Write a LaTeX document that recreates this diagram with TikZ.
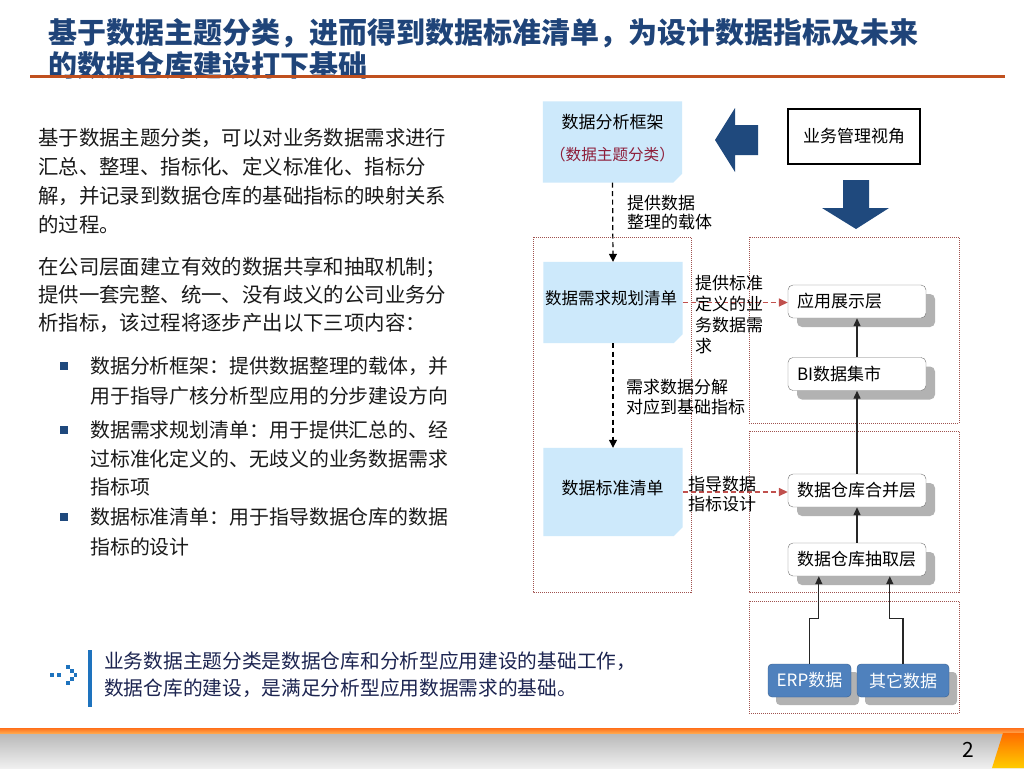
\documentclass[tikz,border=0pt]{standalone}
\usepackage{fontspec}
\setmainfont{Noto Sans CJK SC}
\usetikzlibrary{arrows.meta,shadows,calc,backgrounds}
\definecolor{titleblue}{HTML}{1F4479}
\definecolor{rulered}{HTML}{C0501E}
\definecolor{lblue}{HTML}{CDE9FB}
\definecolor{framered}{HTML}{A0524F}
\definecolor{arrred}{HTML}{C0504D}
\definecolor{navy}{HTML}{1F497D}
\definecolor{erpblue}{HTML}{4F81BD}
\definecolor{notetext}{HTML}{1C2450}
\definecolor{iconblue}{HTML}{1E73BE}
\definecolor{darkred}{HTML}{8E1E3A}
\definecolor{bodytext}{HTML}{1A1A1A}
\newcommand\chamferfill[1]{\fill[lblue] (#1.north west) -- (#1.north east) -- ([yshift=9pt]#1.south east) -- ([xshift=-9pt]#1.south east) -- (#1.south west) -- cycle;}
\begin{document}
\begin{tikzpicture}[x=1pt,y=-1pt,
  body/.style={anchor=north west, inner sep=0, align=left, text=bodytext},
  lab/.style={anchor=north west, inner sep=0, align=left, text=black, font=\fontsize{17}{19.5}\selectfont},
  bulletsq/.style={fill=navy, minimum size=8pt, inner sep=0},
  lbox/.style={minimum width=139pt, minimum height=81pt, inner sep=0, font=\fontsize{16.5}{20}\selectfont},
  frame/.style={draw=framered, line width=0.8pt, dash pattern=on 1pt off 1pt},
  layerbox/.style={draw=black!55, fill=white, rounded corners=5pt, minimum width=138pt, minimum height=33pt, text width=120pt, inner xsep=9pt, inner ysep=0, align=left, font=\fontsize{17}{20}\selectfont, drop shadow={shadow xshift=9pt, shadow yshift=-9pt, fill=black!30, opacity=1}},
  srcbox/.style={draw=erpblue!75!black, fill=erpblue, rounded corners=4pt, minimum height=33pt, inner sep=0, text=white, font=\fontsize{17}{20}\selectfont, drop shadow={shadow xshift=8pt, shadow yshift=-8pt, fill=black!30, opacity=1}},
  arr/.style={draw=black!85, line width=1.3pt, -{Triangle[length=8pt,width=7pt]}},
  dasharr/.style={draw=black, line width=1.2pt, dash pattern=on 5pt off 3.5pt, -{Triangle[length=8pt,width=8pt]}},
  redarr/.style={draw=arrred, line width=1.5pt, dash pattern=on 5pt off 3pt, -{Triangle[length=9pt,width=8pt]}}
]
\useasboundingbox (0,0) rectangle (1024,768);
\begin{pgfonlayer}{background}
\fill[white] (0,0) rectangle (1024,768);
\end{pgfonlayer}

% title
\node[anchor=north west, inner sep=0, align=left, text=titleblue, font=\bfseries\fontsize{29}{33.5}\selectfont] (title) at (48,18) {基于数据主题分类，进而得到数据标准清单，为设计数据指标及未来\\的数据仓库建设打下基础};
\fill[rulered] (30,74.5) rectangle (1005,78);

% left text
\node[body, font=\fontsize{20.4}{29}\selectfont] (p1) at (38,128.6) {基于数据主题分类，可以对业务数据需求进行\\汇总、整理、指标化、定义标准化、指标分\\解，并记录到数据仓库的基础指标的映射关系\\的过程。};
\node[body, font=\fontsize{20.4}{28}\selectfont] (p2) at (38,257.5) {在公司层面建立有效的数据共享和抽取机制；\\提供一套完整、统一、没有歧义的公司业务分\\析指标，该过程将逐步产出以下三项内容：};
\node[bulletsq] (b1) at (64,366) {};
\node[bulletsq] (b2) at (64,430) {};
\node[bulletsq] (b3) at (64,517) {};
\node[body, font=\fontsize{19.9}{30}\selectfont] (bt1) at (90,356.6) {数据分析框架：提供数据整理的载体，并\\用于指导广核分析型应用的分步建设方向};
\node[body, font=\fontsize{19.9}{28.5}\selectfont] (bt2) at (90,420.6) {数据需求规划清单：用于提供汇总的、经\\过标准化定义的、无歧义的业务数据需求\\指标项};
\node[body, font=\fontsize{19.9}{30}\selectfont] (bt3) at (90,507.6) {数据标准清单：用于指导数据仓库的数据\\指标的设计};

% bottom note
\fill[iconblue] (88,650) rectangle (92,707);
\foreach \cx/\cy in {52/675,59/675,68/667,72/671,75.5/675,72/679,68/683}
  \fill[iconblue] (\cx-1.75,\cy-1.75) rectangle (\cx+1.75,\cy+1.75);
\node[anchor=north west, inner sep=0, align=left, text=notetext, font=\fontsize{19.7}{27}\selectfont] (note) at (104,651.7) {业务数据主题分类是数据仓库和分析型应用建设的基础工作，\\数据仓库的建设，是满足分析型应用数据需求的基础。};

% containers
\draw[frame] (533,237) rectangle (691,592);
\draw[frame] (749,237) rectangle (959,423);
\draw[frame] (749,431) rectangle (959,592);
\draw[frame] (749,601) rectangle (959,713);

% left column boxes
\node[lbox] (fw) at (612.5,142) {};
\node[lbox] (req) at (613,302.5) {};
\node[lbox, minimum height=88pt] (std) at (613,492) {};
\begin{pgfonlayer}{background}
\chamferfill{fw}
\chamferfill{req}
\chamferfill{std}
\end{pgfonlayer}
\node[inner sep=0, font=\fontsize{17}{20}\selectfont] (fwt1) at (612.5,122) {数据分析框架};
\node[inner sep=0, text=darkred, font=\fontsize{15.6}{20}\selectfont] (fwt2) at (612.5,155) {（数据主题分类）};
\node[inner sep=0, font=\fontsize{16.5}{20}\selectfont] (reqt) at (611,298) {数据需求规划清单};
\node[inner sep=0, font=\fontsize{17}{20}\selectfont] (stdt) at (612.5,488) {数据标准清单};

% top right
\node[draw, line width=2pt, minimum width=132pt, minimum height=55pt, inner sep=0, font=\fontsize{17}{20}\selectfont] (biz) at (854,136) {业务管理视角};
\fill[navy] (715,140) -- (735,108) -- (735,125) -- (758,125) -- (758,155) -- (735,155) -- (735,172) -- cycle;
\fill[navy] (843,180) -- (869,180) -- (869,208) -- (889,208) -- (856,229) -- (822,208) -- (843,208) -- cycle;

% right column
\node[layerbox] (app) at (857,301.5) {应用展示层};
\node[layerbox] (bi) at (857,374) {BI数据集市};
\node[layerbox] (mrg) at (857,490.5) {数据仓库合并层};
\node[layerbox] (ext) at (857,559.5) {数据仓库抽取层};
\node[srcbox, minimum width=83pt] (erp) at (809.5,680.5) {ERP数据};
\node[srcbox, minimum width=92pt] (oth) at (903,680.5) {其它数据};

\draw[arr] (bi.north) -- (app.south);
\draw[arr] (mrg.north) -- (bi.south);
\draw[arr] (ext.north) -- (mrg.south);
\draw[arr] (erp.north) -- ++(0,-45) -| ([xshift=31pt]ext.south west);
\draw[arr] (oth.north) -- ++(0,-45) -| ([xshift=102pt]ext.south west);

% connectors left
\draw[dasharr] (fw.south) -- (req.north);
\draw[dasharr] (req.south) -- (std.north);
\draw[redarr] (req.east) -- (req.east -| app.west);
\draw[redarr] (std.east) -- (std.east -| mrg.west);

\node[lab] (l1) at (627,195) {提供数据\\整理的载体};
\node[lab, font=\fontsize{17}{20}\selectfont] (l2) at (626,379) {需求数据分解\\对应到基础指标};
\node[lab, font=\fontsize{17}{21}\selectfont] (l3) at (695,275) {提供标准\\定义的业\\务数据需\\求};
\node[lab, font=\fontsize{17}{20}\selectfont] (l4) at (688,476) {指导数据\\指标设计};

% footer
\shade[top color=black!28, bottom color=black!6] (0,733) rectangle (1024,768);
\shade[top color=orange!75!red!90, bottom color=orange!70] (0,728) rectangle (1024,733);
\shade[top color=orange!85!red, bottom color=orange!40!yellow] (1003,733) -- (1024,733) -- (1024,768) -- (992,768) -- cycle;
\node[inner sep=0, font=\fontsize{21}{24}\selectfont] (pg) at (968,750) {2};
\end{tikzpicture}
\end{document}
